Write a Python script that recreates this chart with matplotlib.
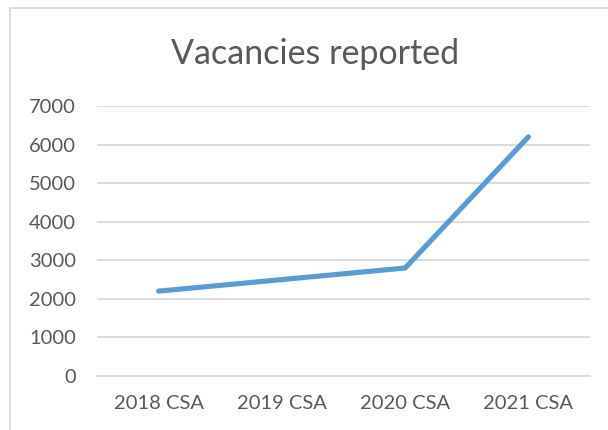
import matplotlib.pyplot as plt
from matplotlib.lines import Line2D

years = ["2018 CSA", "2019 CSA", "2020 CSA", "2021 CSA"]
vacancies = [2200, 2500, 2800, 6200]
y_ticks = [0, 1000, 2000, 3000, 4000, 5000, 6000, 7000]

plt.rcParams['font.family'] = ['Lato', 'DejaVu Sans']
W, H = 608, 430
fig = plt.figure(figsize=(W / 100, H / 100), dpi=100)
ax = fig.add_axes([97 / W, 1 - 376 / H, (590 - 97) / W, (376 - 106) / H])

xs = range(len(years))
ax.plot(xs, vacancies, color="#5B9BD5", linewidth=3.7, solid_capstyle="round",
        solid_joinstyle="round", zorder=3)

ax.set_xlim(-0.5, len(years) - 0.5)
ax.set_ylim(0, 7000)
ax.set_yticks(y_ticks)
ax.set_xticks(list(xs))
ax.set_xticklabels(years)
ax.yaxis.grid(True, color="#D9D9D9", linewidth=1.3)
ax.set_axisbelow(True)
for s in ax.spines.values():
    s.set_visible(False)
ax.spines["bottom"].set_visible(True)
ax.spines["bottom"].set_color("#D9D9D9")
ax.spines["bottom"].set_linewidth(1.3)
ax.tick_params(axis="both", length=0, labelsize=14.5, labelcolor="#595959")
ax.tick_params(axis="y", pad=15)
ax.tick_params(axis="x", pad=14)

fig.text(315 / W, 1 - 54 / H, "Vacancies reported", ha="center", va="center",
         fontsize=24.5, color="#595959")

# chart-area border (only top and left edge are visible in the crop)
fig.add_artist(Line2D([10 / W, 1.0], [1 - 8 / H, 1 - 8 / H], color="#D9D9D9", linewidth=1.3))
fig.add_artist(Line2D([10 / W, 10 / W], [0, 1 - 8 / H], color="#D9D9D9", linewidth=1.3))

fig.savefig("out.png", dpi=100)
